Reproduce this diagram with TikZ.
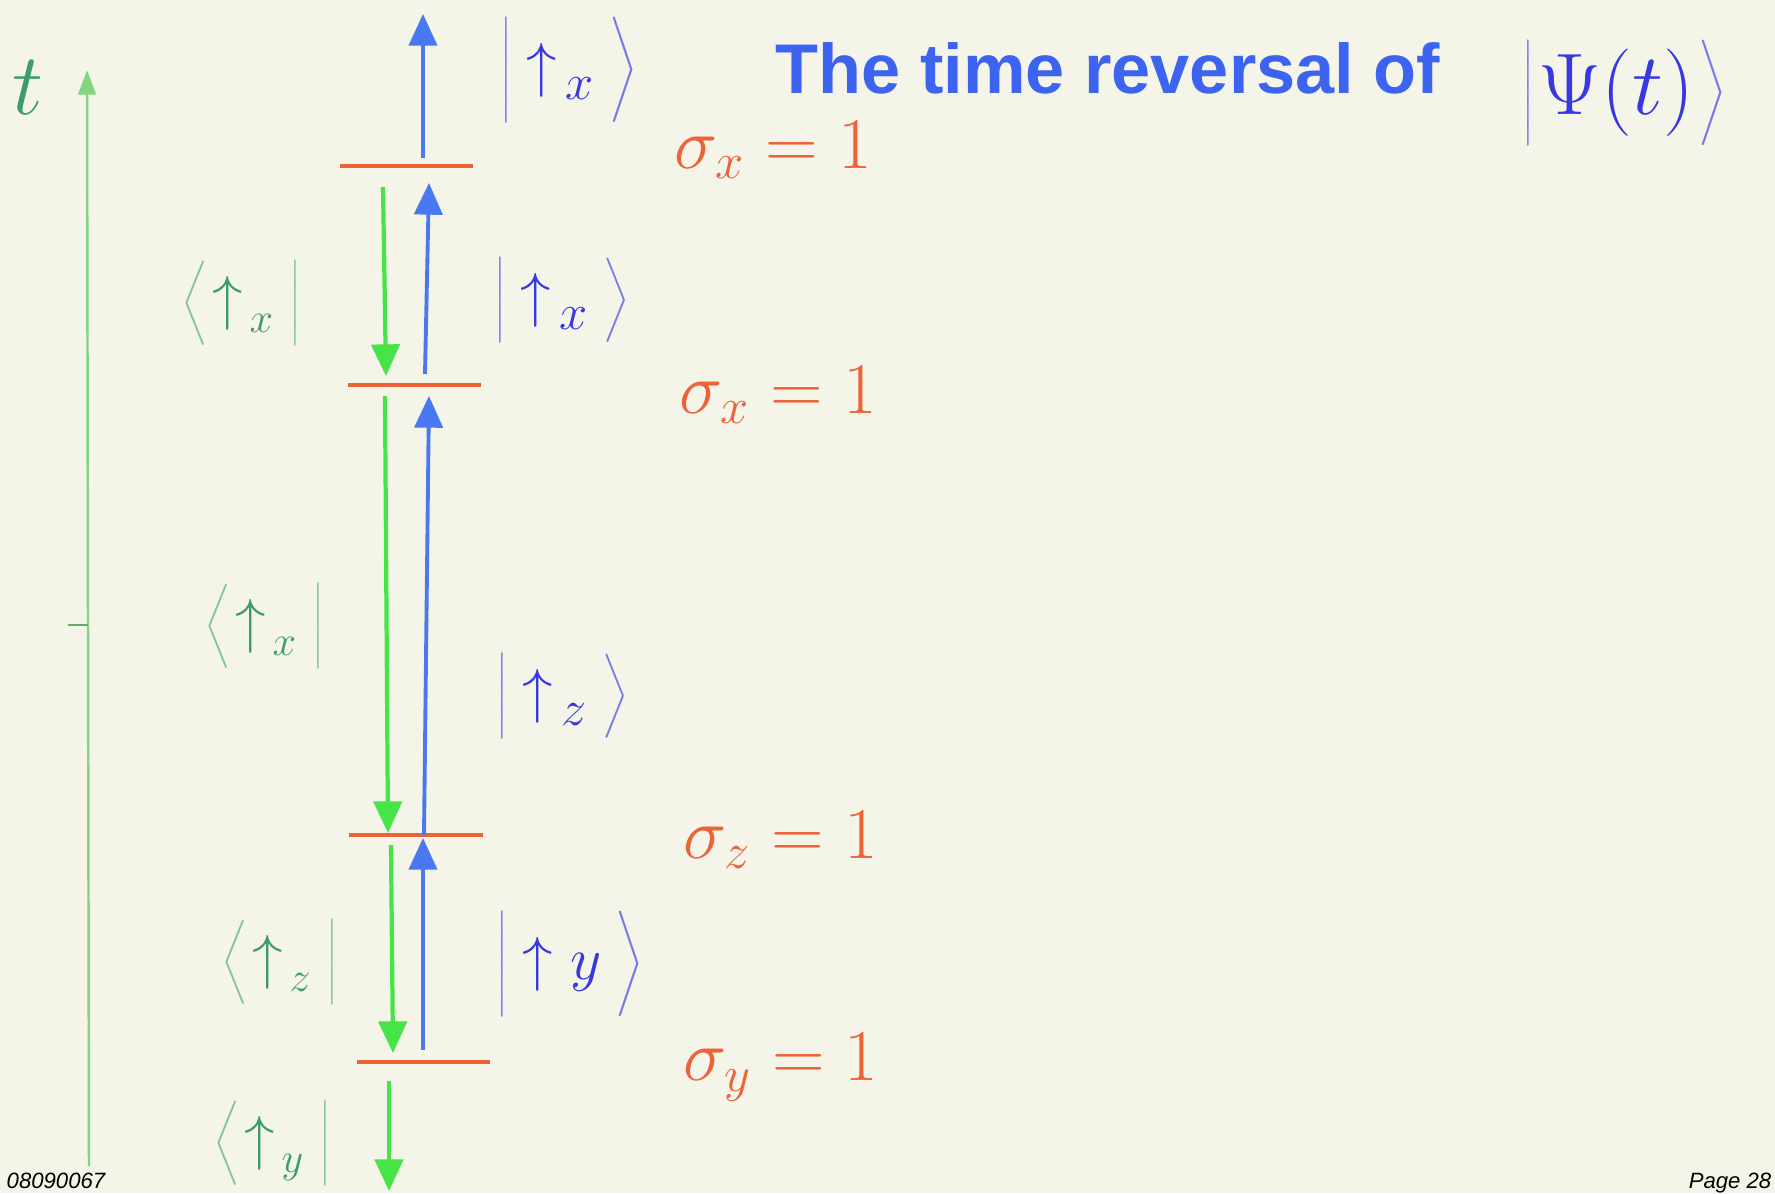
\documentclass[tikz,border=0pt]{standalone}
\usepackage{fontspec}
\newfontfamily\arialfont{Liberation Sans}
\usetikzlibrary{arrows.meta}

\definecolor{bgcream}{RGB}{244,245,232}
\definecolor{sigred}{RGB}{238,98,58}
\definecolor{arrblue}{RGB}{74,120,240}
\definecolor{arrgreen}{RGB}{70,228,70}
\definecolor{axisgreen}{RGB}{130,214,130}
\definecolor{ketblue}{RGB}{56,56,226}
\definecolor{ketbar}{RGB}{120,120,232}
\definecolor{bragreen}{RGB}{62,156,108}
\definecolor{brabar}{RGB}{130,196,150}
\definecolor{titleblue}{RGB}{60,100,240}

% delimiters of a given height
\newcommand{\dstrut}[1]{\vcenter{\hrule height #1 width 0pt}}
\newcommand{\myket}[2][26pt]{{\color{ketbar}\left|\dstrut{#1}\right.}\,#2\,{\color{ketbar}\left.\dstrut{#1}\right\rangle}}
\newcommand{\mybra}[2][22pt]{{\color{brabar}\left\langle\dstrut{#1}\right.}#2\,{\color{brabar}\left.\dstrut{#1}\right|}}

\begin{document}
\begin{tikzpicture}[
  x=0.01cm, y=-0.01cm,
  level/.style={draw=sigred, line width=1.1pt},
  uparr/.style={-{Triangle[length=9pt,width=8pt]}, draw=arrblue, fill=arrblue, line width=1.1pt},
  dnarr/.style={-{Triangle[length=9pt,width=8pt]}, draw=arrgreen, fill=arrgreen, line width=1.2pt},
  ket/.style={text=ketblue, anchor=west, inner sep=0pt, font=\fontsize{19}{24}\selectfont},
  bra/.style={text=bragreen, anchor=west, inner sep=0pt, font=\fontsize{18}{22}\selectfont},
  sig/.style={text=sigred, anchor=west, inner sep=0pt, font=\fontsize{21}{25}\selectfont},
  foot/.style={inner sep=0pt, font=\arialfont\itshape\fontsize{6.3}{8}\selectfont}
]
% page
\path[use as bounding box, fill=bgcream] (0,0) rectangle (1775,1193);

% time axis
\coordinate (tbot) at (89,1166);
\coordinate (ttop) at (87,70);
\coordinate (tick) at (68,625);
\coordinate (tmid) at (88,625);
\draw[axisgreen, line width=0.7pt, -{Triangle[length=7pt,width=5pt]}] (tbot) -- (ttop);
\draw[axisgreen!80!black, line width=0.6pt] (tick) -- (tmid);
\node[text=bragreen, font=\fontsize{24}{28}\selectfont] (tlab) at (28,88) {$t$};

% measurement levels
\coordinate (l1a) at (340,166); \coordinate (l1b) at (473,166);
\coordinate (l2a) at (348,385); \coordinate (l2b) at (481,385);
\coordinate (l3a) at (349,835); \coordinate (l3b) at (483,835);
\coordinate (l4a) at (357,1062); \coordinate (l4b) at (490,1062);
\draw[level] (l1a) -- (l1b);
\draw[level] (l2a) -- (l2b);
\draw[level] (l3a) -- (l3b);
\draw[level] (l4a) -- (l4b);

% forward evolution (blue)
\coordinate (u1s) at (423,158);  \coordinate (u1e) at (423,14);
\coordinate (u2s) at (425,374);  \coordinate (u2e) at (429,183);
\coordinate (u3s) at (424,835);  \coordinate (u3e) at (429,396);
\coordinate (u4s) at (423,1050); \coordinate (u4e) at (423,838);
\draw[uparr] (u1s) -- (u1e);
\draw[uparr] (u2s) -- (u2e);
\draw[uparr] (u3s) -- (u3e);
\draw[uparr] (u4s) -- (u4e);

% backward evolution (green)
\coordinate (d1s) at (383,187);  \coordinate (d1e) at (386,376);
\coordinate (d2s) at (385,396);  \coordinate (d2e) at (388,833);
\coordinate (d3s) at (391,845);  \coordinate (d3e) at (393,1053);
\coordinate (d4s) at (389,1081); \coordinate (d4e) at (389,1191);
\draw[dnarr] (d1s) -- (d1e);
\draw[dnarr] (d2s) -- (d2e);
\draw[dnarr] (d3s) -- (d3e);
\draw[dnarr] (d4s) -- (d4e);

% kets
\node[ket] (k1) at (500,70) {$\myket[27pt]{{\uparrow}_{\,x}}$};
\node[ket] (k2) at (494,300) {$\myket{{\uparrow}_{\,x}}$};
\node[ket] (k3) at (496,696) {$\myket{{\uparrow}_{\,z}}$};
\node[ket] (k4) at (496,964) {$\myket[27pt]{{\uparrow}\;y}$};

% bras
\node[bra] (b1) at (181,303) {$\mybra{{\uparrow}_{\,x}}$};
\node[bra] (b2) at (204,626) {$\mybra{{\uparrow}_{\,x}}$};
\node[bra] (b3) at (221,962) {$\mybra{{\uparrow}_{\,z}}$};
\node[bra] (b4) at (213,1143) {$\mybra{{\uparrow}_{\,y}}$};

% outcomes
\node[sig] (s1) at (674,150) {$\sigma_{x} = 1$};
\node[sig] (s2) at (679,395) {$\sigma_{x} = 1$};
\node[sig] (s3) at (683,840) {$\sigma_{z} = 1$};
\node[sig] (s4) at (683,1067) {$\sigma_{y} = 1$};

% title
\node[text=titleblue, anchor=west, inner sep=0pt, font=\arialfont\bfseries\fontsize{20}{24}\selectfont] (title) at (775,68) {The time reversal of};
\node[text=ketblue, anchor=west, inner sep=0pt, font=\fontsize{25}{29}\selectfont] (psi) at (1522,93)
  {${\color{ketbar}\left|\dstrut{30pt}\right.}\Psi(t){\color{ketbar}\left.\dstrut{30pt}\right\rangle}$};

% footer
\node[foot, anchor=base west] (fl) at (6,1188) {08090067};
\node[foot, anchor=base east] (fr) at (1772,1188) {Page 28};
\end{tikzpicture}
\end{document}
